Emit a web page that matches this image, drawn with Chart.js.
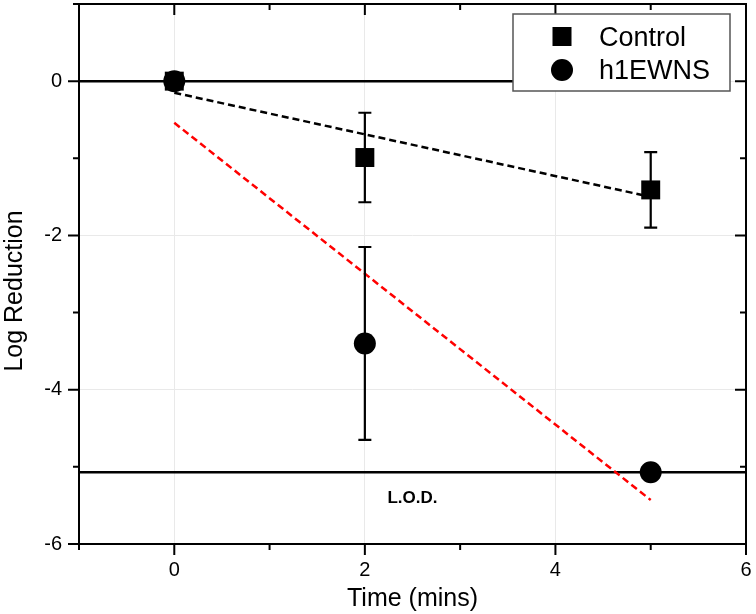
<!DOCTYPE html>
<html>
<head>
<meta charset="utf-8">
<script src="https://cdn.jsdelivr.net/npm/chart.js@4/dist/chart.umd.min.js"></script>
<style>
  html, body { margin: 0; padding: 0; background: #fff; }
  #wrap { width: 756px; height: 614px; }
</style>
</head>
<body>
<div id="wrap"><canvas id="c" width="756" height="614"></canvas></div>
<script>
// ---- data ----
const seriesNames = ['Control', 'h1EWNS'];
const timePoints = [0, 2, 5];
const controlMean = [0, -0.99, -1.41];
const controlErr = [0, 0.58, 0.49];
const h1ewnsMean = [0, -3.40, -5.07];
const h1ewnsErr = [0, 1.25, 0];
const controlFitX = [0, 5];
const controlFitY = [-0.15, -1.50];
const h1ewnsFitX = [0, 5];
const h1ewnsFitY = [-0.54, -5.43];
const zeroLineX = [-1, 5];
const zeroLineY = [0, 0];
const lodLineX = [-1, 6];
const lodValue = -5.07;
const lodLabel = 'L.O.D.';
const xAxisTitle = 'Time (mins)';
const yAxisTitle = 'Log Reduction';
const xRange = [-1, 6];
const yRange = [-6, 1];

const FONT = "'Liberation Sans', Arial, sans-serif";

const pts = (xs, ys) => xs.map((x, i) => ({ x: x, y: ys[i] }));

const datasets = [
  { label: 'zero', data: pts(zeroLineX, zeroLineY), showLine: true, borderColor: '#000', borderWidth: 2.5, pointRadius: 0, order: 6 },
  { label: 'lod', data: pts(lodLineX, lodLineX.map(() => lodValue)), showLine: true, borderColor: '#000', borderWidth: 2.5, pointRadius: 0, order: 6 },
  { label: 'controlFit', data: pts(controlFitX, controlFitY), showLine: true, borderColor: '#000', borderWidth: 2.5, borderDash: [7, 4], pointRadius: 0, order: 5 },
  { label: 'h1Fit', data: pts(h1ewnsFitX, h1ewnsFitY), showLine: true, borderColor: '#ff0000', borderWidth: 2.5, borderDash: [7, 4], pointRadius: 0, order: 5 },
  { label: seriesNames[1], data: pts(timePoints, h1ewnsMean), errors: h1ewnsErr, showLine: false, pointStyle: 'circle', pointRadius: 11, pointHoverRadius: 11, backgroundColor: '#000', borderColor: '#000', borderWidth: 0, order: 2 },
  { label: seriesNames[0], data: pts(timePoints, controlMean), errors: controlErr, showLine: false, pointStyle: 'rect', pointRadius: 13.4, pointHoverRadius: 13.4, backgroundColor: '#000', borderColor: '#000', borderWidth: 0, order: 1 }
];

const decorations = {
  id: 'decorations',
  afterDatasetsDraw(chart) {
    const ctx = chart.ctx;
    const xs = chart.scales.x, ys = chart.scales.y;
    const a = chart.chartArea;
    ctx.save();
    // error bars
    ctx.strokeStyle = '#000';
    ctx.lineWidth = 2.2;
    chart.data.datasets.forEach(ds => {
      if (!ds.errors) return;
      ds.data.forEach((p, i) => {
        const e = ds.errors[i];
        if (!e) return;
        const px = xs.getPixelForValue(p.x);
        const y1 = ys.getPixelForValue(p.y + e);
        const y2 = ys.getPixelForValue(p.y - e);
        ctx.beginPath();
        ctx.moveTo(px, y1); ctx.lineTo(px, y2);
        ctx.moveTo(px - 6.5, y1); ctx.lineTo(px + 6.5, y1);
        ctx.moveTo(px - 6.5, y2); ctx.lineTo(px + 6.5, y2);
        ctx.stroke();
      });
    });
    // frame
    ctx.lineWidth = 2;
    ctx.strokeRect(a.left, a.top, a.right - a.left, a.bottom - a.top);
    // tick marks
    ctx.beginPath();
    for (let v = xRange[0]; v <= xRange[1]; v++) {
      const px = xs.getPixelForValue(v);
      const len = v % 2 === 0 ? 11 : 6;
      ctx.moveTo(px, a.bottom); ctx.lineTo(px, a.bottom + len);
      ctx.moveTo(px, a.top); ctx.lineTo(px, a.top + len);
    }
    for (let v = yRange[0]; v <= yRange[1]; v++) {
      const py = ys.getPixelForValue(v);
      const len = v % 2 === 0 ? 11 : 6;
      ctx.moveTo(a.left - len, py); ctx.lineTo(a.left, py);
      ctx.moveTo(a.right - len, py); ctx.lineTo(a.right, py);
    }
    ctx.stroke();
    // L.O.D. label
    ctx.fillStyle = '#000';
    ctx.font = 'bold 17px ' + FONT;
    ctx.textAlign = 'center';
    ctx.textBaseline = 'alphabetic';
    ctx.fillText(lodLabel, xs.getPixelForValue(2.5), ys.getPixelForValue(lodValue) + 31);
    // legend
    const lx = 513, ly = 14, lw = 217, lh = 77;
    ctx.fillStyle = '#fff';
    ctx.fillRect(lx, ly, lw, lh);
    ctx.strokeStyle = '#555';
    ctx.lineWidth = 1.5;
    ctx.strokeRect(lx, ly, lw, lh);
    ctx.fillStyle = '#000';
    ctx.fillRect(562 - 9.5, 36.5 - 9.5, 19, 19);
    ctx.beginPath();
    ctx.arc(562, 70, 11, 0, Math.PI * 2);
    ctx.fill();
    ctx.font = '27px ' + FONT;
    ctx.textAlign = 'left';
    ctx.fillText(seriesNames[0], 599, 46);
    ctx.fillText(seriesNames[1], 599, 79);
    // axis titles
    ctx.font = '25px ' + FONT;
    ctx.textAlign = 'center';
    ctx.fillText(xAxisTitle, (a.left + a.right) / 2, 606);
    ctx.save();
    ctx.translate(22, 291);
    ctx.rotate(-Math.PI / 2);
    ctx.fillText(yAxisTitle, 0, 0);
    ctx.restore();
    ctx.restore();
  }
};

const gridColor = c => (c.tick && Math.round(c.tick.value) % 2 === 0) ? '#e9e9e9' : 'rgba(0,0,0,0)';
const tickLabel = v => (Math.round(v) % 2 === 0 ? String(v) : '');

new Chart(document.getElementById('c'), {
  type: 'scatter',
  data: { datasets: datasets },
  options: {
    responsive: false,
    animation: false,
    devicePixelRatio: 1,
    layout: { autoPadding: false, padding: { top: 4, right: 10, left: 0, bottom: 0 } },
    plugins: { legend: { display: false }, tooltip: { enabled: false } },
    scales: {
      x: {
        type: 'linear', min: xRange[0], max: xRange[1],
        ticks: { stepSize: 1, autoSkip: false, maxRotation: 0, padding: 3, color: '#000', font: { family: FONT, size: 20 }, callback: tickLabel },
        grid: { color: gridColor, lineWidth: 1, drawTicks: true, tickLength: 11, tickColor: 'rgba(0,0,0,0)' },
        border: { display: false },
        afterFit: s => { s.height = 70; s.paddingLeft = 0; s.paddingRight = 0; }
      },
      y: {
        type: 'linear', min: yRange[0], max: yRange[1],
        ticks: { stepSize: 1, autoSkip: false, padding: 6, color: '#000', font: { family: FONT, size: 20 }, callback: tickLabel },
        grid: { color: gridColor, lineWidth: 1, drawTicks: true, tickLength: 11, tickColor: 'rgba(0,0,0,0)' },
        border: { display: false },
        afterFit: s => { s.width = 79; s.paddingTop = 0; s.paddingBottom = 0; }
      }
    }
  },
  plugins: [decorations]
});
</script>
</body>
</html>
